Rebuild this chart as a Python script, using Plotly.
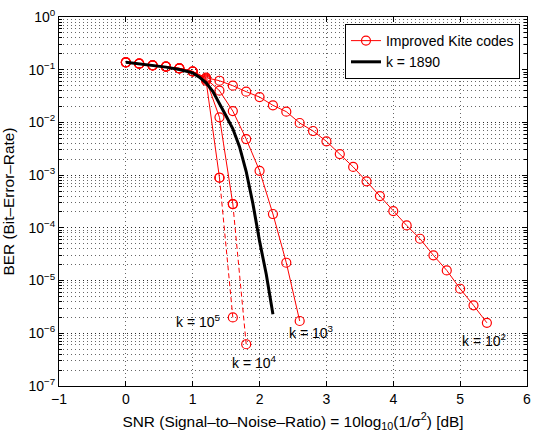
import plotly.graph_objects as go

# ---- data ----
snr_common = [0.0, 0.2, 0.4, 0.6, 0.8, 1.0]
ber_common = [0.138, 0.130, 0.121, 0.114, 0.106, 0.0925]

snr_k100 = [1.2, 1.4, 1.6, 1.8, 2.0, 2.2, 2.4, 2.6, 2.8, 3.0, 3.2, 3.4, 3.6, 3.8,
            4.0, 4.2, 4.4, 4.6, 4.8, 5.0, 5.2, 5.4]
ber_k100 = [0.0705, 0.0618, 0.0497, 0.0383, 0.0303, 0.0211, 0.0160, 0.00975,
            0.00687, 0.00438, 0.00251, 0.00143, 7.62e-4, 4.01e-4, 2.08e-4,
            1.11e-4, 6.21e-5, 3.01e-5, 1.56e-5, 7.0e-6, 3.39e-6, 1.58e-6]

snr_k1000 = [1.2, 1.4, 1.6, 1.8, 2.0, 2.2, 2.4, 2.6]
ber_k1000 = [0.0676, 0.040, 0.0164, 0.00484, 0.00121, 1.83e-4, 2.18e-5, 1.71e-6]

snr_k10000 = [1.2, 1.4, 1.6]
ber_k10000 = [0.0646, 0.0125, 2.83e-4]
snr_k10000_dash = [1.6, 1.8]
ber_k10000_dash = [2.83e-4, 6.2e-7]

snr_k100000 = [1.2, 1.4]
ber_k100000 = [0.0617, 8.93e-4]
snr_k100000_dash = [1.4, 1.6]
ber_k100000_dash = [8.93e-4, 2.0e-6]

snr_k1890 = [0.0, 0.2, 0.4, 0.6, 0.8, 1.0, 1.1, 1.2, 1.3, 1.4, 1.5, 1.6, 1.7,
             1.8, 1.9, 2.0, 2.1, 2.2]
ber_k1890 = [0.138, 0.130, 0.122, 0.112, 0.101, 0.0871, 0.0724, 0.0562, 0.0389,
             0.0219, 0.0132, 0.00759, 0.00347, 0.00117, 2.88e-4, 5.6e-5,
             1.32e-5, 2.3e-6]

ytick_vals = [1, 1e-1, 1e-2, 1e-3, 1e-4, 1e-5, 1e-6, 1e-7]
ytick_text = ["10<sup>0</sup>", "10<sup>−1</sup>", "10<sup>−2</sup>", "10<sup>−3</sup>",
              "10<sup>−4</sup>", "10<sup>−5</sup>", "10<sup>−6</sup>", "10<sup>−7</sup>"]
xtick_vals = [-1, 0, 1, 2, 3, 4, 5, 6]
xtick_text = ["−1", "0", "1", "2", "3", "4", "5", "6"]

labels = ["k = 10<sup>5</sup>", "k = 10<sup>4</sup>", "k = 10<sup>3</sup>", "k = 10<sup>2</sup>"]
label_x = [1.452, 1.557, 2.41, 5.0]
label_logy = [-5.76, -6.54, -5.97, -6.13]
label_anchor = ["right", "left", "left", "left"]

RED = "#ff0000"
FONT = "Liberation Sans, Arial, sans-serif"

fig = go.Figure()

solid_sets = [
    ("Improved Kite codes", True, snr_k100, ber_k100),
    ("k1000", False, snr_k1000, ber_k1000),
    ("k10000", False, snr_k10000, ber_k10000),
    ("k100000", False, snr_k100000, ber_k100000),
]
for name, show, xs, ys in solid_sets:
    fig.add_trace(go.Scatter(
        x=snr_common + xs, y=ber_common + ys, name=name, showlegend=show,
        mode="lines+markers",
        line=dict(color=RED, width=1),
        marker=dict(symbol="circle-open", size=9, color=RED, line=dict(width=1.2, color=RED)),
    ))

for xs, ys in [(snr_k10000_dash, ber_k10000_dash), (snr_k100000_dash, ber_k100000_dash)]:
    fig.add_trace(go.Scatter(
        x=xs, y=ys, showlegend=False, mode="lines+markers",
        line=dict(color=RED, width=1, dash="5px,3px"),
        marker=dict(symbol="circle-open", size=9, color=RED, line=dict(width=1.2, color=RED)),
    ))

fig.add_trace(go.Scatter(
    x=snr_k1890, y=ber_k1890, name="k = 1890", mode="lines",
    line=dict(color="black", width=3),
))

for t, xv, yv, anc in zip(labels, label_x, label_logy, label_anchor):
    fig.add_annotation(x=xv, y=yv, text=t, showarrow=False, xanchor=anc,
                       yanchor="middle", font=dict(size=14, color="black", family=FONT))

grid_col = "rgba(0,0,0,0.6)"
fig.update_xaxes(
    range=[-1, 6], tickvals=xtick_vals, ticktext=xtick_text, automargin=False,
    showline=True, linecolor="black", linewidth=1, mirror="ticks",
    ticks="inside", ticklen=5, tickcolor="black",
    showgrid=True, gridcolor=grid_col, griddash="1px,3px", gridwidth=1,
    zeroline=False,
    tickfont=dict(size=14, color="black", family=FONT),
    title=dict(text="SNR (Signal–to–Noise–Ratio) = 10log<sub>10</sub>(1/σ<sup>2</sup>) [dB]",
               font=dict(size=15.4, color="black", family=FONT)),
)
fig.update_yaxes(
    type="log", range=[-7, 0], tickvals=ytick_vals, ticktext=ytick_text, automargin=False,
    showline=True, linecolor="black", linewidth=1, mirror="allticks",
    ticks="inside", ticklen=5, tickcolor="black",
    showgrid=True, gridcolor=grid_col, griddash="1px,3px", gridwidth=1,
    zeroline=False,
    minor=dict(dtick="D1", ticks="inside", ticklen=3, tickcolor="black",
               showgrid=True, gridcolor=grid_col, griddash="1px,3px", gridwidth=1),
    tickfont=dict(size=14, color="black", family=FONT),
    title=dict(text="BER (Bit–Error–Rate)", font=dict(size=15.4, color="black", family=FONT)),
)

fig.update_layout(
    width=533, height=432,
    margin=dict(l=59, r=6, t=17, b=46),
    paper_bgcolor="white", plot_bgcolor="white",
    font=dict(family=FONT, size=14, color="black"),
    legend=dict(x=0.985, y=0.981, xanchor="right", yanchor="top",
                bgcolor="white", bordercolor="black", borderwidth=1,
                font=dict(size=14, family=FONT, color="black"),
                tracegroupgap=0, itemwidth=30),
)

fig.write_html("out.html")
